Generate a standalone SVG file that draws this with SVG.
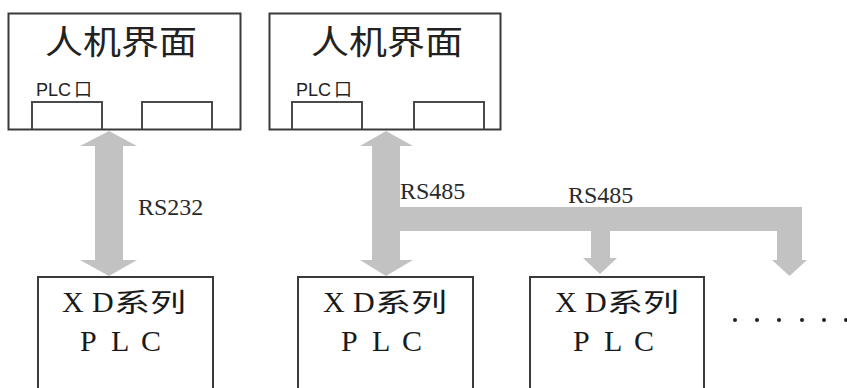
<svg xmlns="http://www.w3.org/2000/svg" width="847" height="388" viewBox="0 0 847 388">
<style>
.box{fill:#fff;stroke:#3a3a3a;stroke-width:2}
.port{fill:none;stroke:#4a4a4a;stroke-width:2}
.title{font-family:"Noto Sans CJK SC","Liberation Sans",sans-serif;font-size:33px;fill:#222}
.plcp{font-family:"Liberation Sans","Noto Sans CJK SC",sans-serif;font-size:18px;fill:#222}
.plc{font-family:"Liberation Serif","Noto Sans CJK SC",serif;font-size:30px;fill:#1a1a1a}
.cjk{font-family:"Noto Sans CJK SC",sans-serif;font-size:26px}
.lbl{font-family:"Liberation Serif",serif;font-size:24px;fill:#2a2a2a}
.arr{fill:#c2c2c2}
.dot{fill:#222}
</style>
<rect width="847" height="388" fill="#fff"/>
<g id="connectors">
<polygon class="arr" points="109,131 137,146 123,146 123,260 137,260 109,276 80,260 95,260 95,146 80,146"/>
<polygon class="arr" points="386,131 413,146 400,146 400,260 413,260 386,276 360,260 372,260 372,146 360,146"/>
<rect class="arr" x="398" y="207" width="404" height="24"/>
<polygon class="arr" points="591,229 610,229 610,258 617,258 600,274 583,258 591,258"/>
<polygon class="arr" points="777,229 802,229 802,260 807,260 789.5,276 772,260 777,260"/>
<text class="lbl" x="138" y="215">RS232</text>
<text class="lbl" x="400" y="199">RS485</text>
<text class="lbl" x="568" y="203">RS485</text>
</g>
<g id="hmi1">
<rect class="box" x="8.5" y="13.5" width="232" height="116"/>
<path class="port" d="M32,129 V102 H102 V129 M142,129 V102 H212 V129"/>
<text class="title" x="45" y="54" textLength="152" lengthAdjust="spacingAndGlyphs">人机界面</text>
<text class="plcp" x="36" y="96">PLC<tspan dx="3">口</tspan></text>
</g>
<g id="hmi2">
<rect class="box" x="269.5" y="13.5" width="231" height="116"/>
<path class="port" d="M292,129 V102 H362 V129 M414,129 V102 H484 V129"/>
<text class="title" x="311" y="54" textLength="152" lengthAdjust="spacingAndGlyphs">人机界面</text>
<text class="plcp" x="296" y="96">PLC<tspan dx="3">口</tspan></text>
</g>
<g id="plc1">
<rect class="box" x="38" y="277" width="175" height="130"/>
<text class="plc" y="312"><tspan x="62">X</tspan><tspan x="92">D</tspan><tspan class="cjk" x="114" textLength="72" lengthAdjust="spacingAndGlyphs">系列</tspan></text>
<text class="plc" y="351"><tspan x="80">P</tspan><tspan x="111">L</tspan><tspan x="141">C</tspan></text>
</g>
<g id="plc2">
<rect class="box" x="298" y="277" width="175" height="130"/>
<text class="plc" y="312"><tspan x="323">X</tspan><tspan x="353">D</tspan><tspan class="cjk" x="375" textLength="72" lengthAdjust="spacingAndGlyphs">系列</tspan></text>
<text class="plc" y="351"><tspan x="341">P</tspan><tspan x="372">L</tspan><tspan x="402">C</tspan></text>
</g>
<g id="plc3">
<rect class="box" x="530" y="277" width="174" height="130"/>
<text class="plc" y="312"><tspan x="555">X</tspan><tspan x="585">D</tspan><tspan class="cjk" x="607" textLength="72" lengthAdjust="spacingAndGlyphs">系列</tspan></text>
<text class="plc" y="351"><tspan x="573">P</tspan><tspan x="604">L</tspan><tspan x="634">C</tspan></text>
</g>
<g id="dots">
<circle class="dot" cx="735" cy="320" r="2"/>
<circle class="dot" cx="757" cy="320" r="2"/>
<circle class="dot" cx="779" cy="320" r="2"/>
<circle class="dot" cx="802" cy="320" r="2"/>
<circle class="dot" cx="824" cy="320" r="2"/>
<circle class="dot" cx="846" cy="320" r="2"/>
</g>
</svg>
